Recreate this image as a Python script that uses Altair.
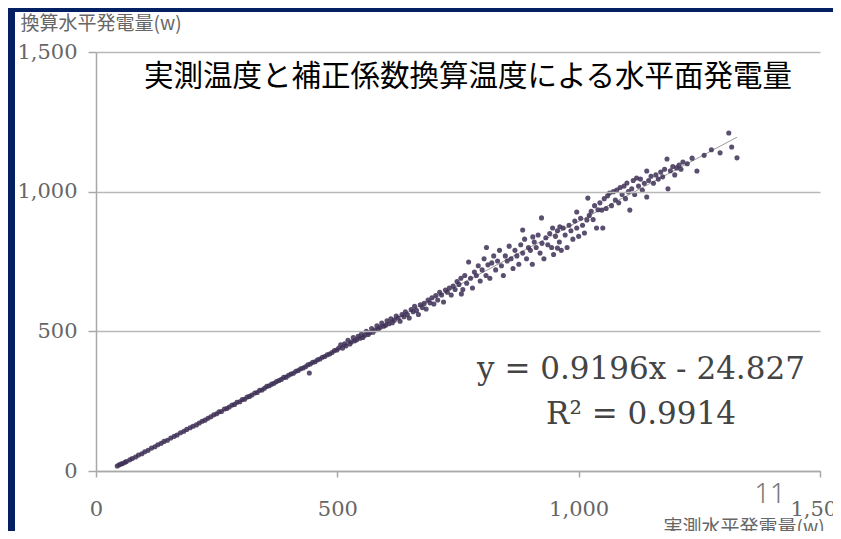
import altair as alt
import pandas as pd

# Measured horizontal generation (x) vs converted horizontal generation (y), in W
x_vals = [
    44, 48, 52, 55, 60, 63, 70, 75, 82, 88, 95, 101, 108, 115, 122, 128, 135, 141, 148, 155,
    162, 168, 175, 182, 188, 195, 201, 208, 214, 220, 226, 232, 238, 244, 250,
    255, 260, 266, 271, 276, 282, 287, 292, 298, 303, 308, 313, 318, 323, 329, 334, 339, 344,
    349, 354, 359, 364, 369, 374, 379, 384, 389, 394, 399, 404, 409, 414, 419, 424, 429, 434,
    439, 442, 444, 449, 454, 459, 464, 469, 474, 479, 484, 489, 494, 499,
    503, 507, 511, 515, 518, 522, 526, 529, 533, 536, 540, 543, 547, 550, 553, 557, 560, 564,
    567, 571, 574, 578, 582, 585, 589, 592, 596, 600, 603, 607, 611, 614, 618, 622, 626, 630,
    634, 638, 641, 645, 649, 653, 657, 660, 664, 668, 672, 676, 680, 684, 688, 692, 696, 700,
    704, 708, 712, 716, 720, 724, 728, 732, 736, 740, 744, 748,
    752, 756, 757, 760, 764, 768, 772, 776, 780, 784, 788, 792, 796, 800, 804, 808, 809, 812,
    816, 820, 824, 828, 832, 836, 840, 844, 848, 852, 856, 860, 864, 868, 872, 876, 880, 884,
    884, 888, 892, 896, 900, 904, 905, 908, 912, 916, 920, 923, 924, 928, 932, 936, 940, 944,
    946, 948, 952, 956, 956, 960, 961, 964, 968, 972, 976, 980, 984, 988, 992, 996, 996, 1000,
    1004, 1008, 1012, 1017, 1019, 1022, 1026, 1030, 1033, 1037, 1040, 1044, 1048, 1050, 1053,
    1057, 1060, 1064, 1068, 1072, 1076, 1079, 1083, 1086, 1090, 1094, 1097, 1100, 1103, 1106,
    1110, 1113, 1116, 1120, 1124, 1128, 1132, 1136, 1141, 1141, 1145, 1150, 1155, 1160, 1165,
    1170, 1174, 1178, 1183, 1185, 1190, 1195, 1199, 1203, 1208, 1212, 1216, 1225, 1235, 1245,
    1260, 1275, 1293, 1311, 1317, 1328,
]
y_vals = [
    18, 22, 25, 27, 31, 34, 40, 45, 50, 57, 62, 69, 74, 82, 87, 94, 99, 106, 110, 118,
    124, 129, 137, 142, 149, 155, 160, 165, 172, 178, 182, 189, 194, 201, 205,
    212, 213, 222, 224, 229, 236, 238, 246, 248, 256, 257, 265, 267, 272, 279, 281, 289, 290,
    296, 303, 305, 311, 314, 320, 324, 328, 335, 336, 343, 347, 350, 357, 360, 366, 369, 373,
    380, 351, 383, 389, 391, 398, 401, 407, 410, 416, 419, 424, 431, 433,
    440, 452, 440, 455, 448, 468, 455, 462, 478, 466, 470, 482, 475, 490, 478, 486, 500, 489,
    495, 510, 497, 505, 520, 508, 515, 530, 518, 522, 538, 527, 545, 531, 540, 555, 548, 536,
    560, 552, 570, 560, 548, 578, 570, 590, 575, 560, 595, 585, 600, 580, 612, 602, 620, 598,
    628, 612, 640, 630, 605, 648, 640, 655, 630, 662, 650, 678,
    668, 690, 634, 650, 700, 672, 748, 690, 655, 712, 700, 735, 680, 720, 760, 700, 800, 738,
    690, 745, 770, 720, 752, 790, 735, 700, 770, 752, 805, 760, 725, 790, 770, 740, 810, 780,
    863, 830, 760, 800, 790, 740, 838, 820, 800, 845, 780, 906, 815, 760, 835, 810, 850, 800,
    870, 775, 840, 860, 798, 820, 874, 790, 870, 845, 800, 880, 860, 830, 895, 870, 927, 840,
    905, 880, 852, 899, 977, 915, 930, 900, 950, 870, 935, 960, 934, 870, 975,
    940, 985, 995, 950, 1000, 970, 1006, 960, 1015, 990, 1020, 975, 1031, 1000, 934,
    1010, 1040, 990, 1049, 1020, 1045, 1005, 1030, 1074, 981, 1040, 1055, 1030, 1060, 1045,
    1070, 1053, 1080, 1117, 1010, 1075, 1090, 1060, 1085, 1095, 1080, 1106, 1100, 1120, 1074,
    1130, 1150, 1139, 1210, 1160, 1121,
]

axis_ticks = [0, 500, 1000, 1500]
title_text = "実測温度と補正係数換算温度による水平面発電量"
y_title = "換算水平発電量(w)"
x_title = "実測水平発電量(w)"
eq_text = "y = 0.9196x - 24.827"
r2_text = "R² = 0.9914"
page_no = "11"

df = pd.DataFrame({"x": x_vals, "y": y_vals})
one = alt.Data(values=[{}])

xscale = alt.Scale(domain=[0, 1500], nice=False)
yscale = alt.Scale(domain=[0, 1500], nice=False)

panel = alt.Chart(one).mark_rect(color="white").encode(
    x=alt.value(-81), x2=alt.value(760), y=alt.value(-40), y2=alt.value(500)
)

points = alt.Chart(df).mark_circle(size=26, color="#3e3056", opacity=0.85).encode(
    x=alt.X("x:Q", scale=xscale,
            axis=alt.Axis(values=axis_ticks, format=",d", title=x_title, grid=False,
                          labelFlush=False, labelOverlap=False, labelPadding=21,
                          tickSize=6, titleAngle=0, titleX=567, titleY=56,
                          titleAlign="left", titleBaseline="middle",
                          titleFont="Noto Sans CJK JP", titleFontSize=19,
                          titleFontWeight="normal", titleColor="#666", zindex=1)),
    y=alt.Y("y:Q", scale=yscale,
            axis=alt.Axis(values=axis_ticks, format=",d", title=y_title, grid=True,
                          labelPadding=11, tickSize=8, titleAngle=0,
                          titleX=-76, titleY=-29, titleAlign="left",
                          titleBaseline="middle", titleFont="Noto Sans CJK JP",
                          titleFontSize=19, titleFontWeight="normal", titleColor="#666",
                          zindex=1)),
)

trend = alt.Chart(df).transform_regression("x", "y").mark_line(
    color="#9a9a9a", strokeWidth=1
).encode(x=alt.X("x:Q", scale=xscale), y=alt.Y("y:Q", scale=yscale))

title = alt.Chart(one).mark_text(
    text=title_text, font="Noto Sans CJK JP", fontSize=29.5, color="black",
    align="center", baseline="middle"
).encode(x=alt.value(372), y=alt.value(25))

eq = alt.Chart(one).mark_text(
    text=eq_text, font="DejaVu Serif", fontSize=31, color="#444",
    align="center", baseline="middle"
).encode(x=alt.value(545), y=alt.value(318))

r2 = alt.Chart(one).mark_text(
    text=r2_text, font="DejaVu Serif", fontSize=31, color="#444",
    align="center", baseline="middle"
).encode(x=alt.value(545), y=alt.value(363))

page = alt.Chart(one).mark_text(
    text=page_no, font="Noto Sans", fontSize=27, color="#777",
    align="center", baseline="middle", fontWeight=300
).encode(x=alt.value(674), y=alt.value(443))

chart = alt.layer(panel, trend, points, title, eq, r2, page).properties(
    width=724, height=419,
    autosize="none",
    padding={"left": 88, "top": 44, "right": 13, "bottom": 60},
    background="#022062",
).configure_view(stroke=None).configure_axis(
    domainColor="#a8a8a8", domainWidth=1.5, tickColor="#a8a8a8", tickWidth=1.5,
    gridColor="#b8b8b8", gridWidth=1.5,
    labelFont="DejaVu Serif", labelFontSize=21, labelColor="#666",
)

chart.save("out.html", embed_options={"renderer": "svg", "actions": False})
